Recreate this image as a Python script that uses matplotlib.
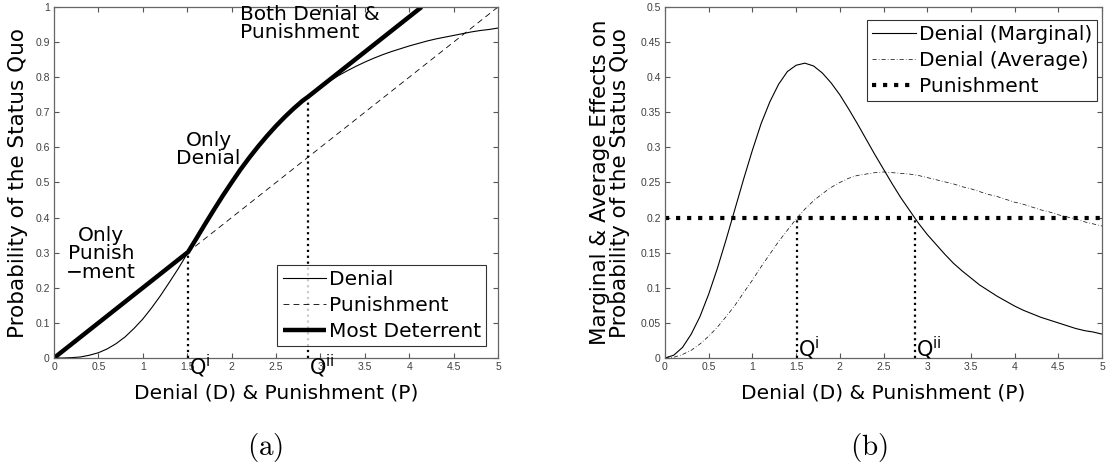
import matplotlib
matplotlib.use("Agg")
import matplotlib.pyplot as plt
from matplotlib.ticker import FormatStrFormatter, MultipleLocator

plt.rcParams['font.family'] = ['DejaVu Sans']
plt.rcParams['mathtext.fontset'] = 'dejavusans'

# values
xs = [0.0, 0.1, 0.2, 0.3, 0.4, 0.5, 0.6, 0.7, 0.8, 0.9,
      1.0, 1.1, 1.2, 1.3, 1.4, 1.5, 1.6, 1.7, 1.8, 1.9,
      2.0, 2.1, 2.2, 2.3, 2.4, 2.5, 2.6, 2.7, 2.8, 2.9,
      3.0, 3.1, 3.2, 3.3, 3.4, 3.5, 3.6, 3.7, 3.8, 3.9,
      4.0, 4.1, 4.2, 4.3, 4.4, 4.5, 4.6, 4.7, 4.8, 4.9, 5.0]
denial = [0.000, 0.000, 0.001, 0.003, 0.008, 0.015, 0.026, 0.041, 0.060, 0.084,
          0.111, 0.143, 0.178, 0.216, 0.255, 0.297, 0.339, 0.381, 0.422, 0.462,
          0.500, 0.537, 0.571, 0.603, 0.633, 0.661, 0.687, 0.711, 0.733, 0.753,
          0.771, 0.788, 0.804, 0.818, 0.831, 0.843, 0.854, 0.864, 0.873, 0.881,
          0.889, 0.896, 0.903, 0.909, 0.914, 0.919, 0.924, 0.929, 0.933, 0.936, 0.940]
marginal = [0.000, 0.004, 0.015, 0.034, 0.059, 0.091, 0.128, 0.169, 0.212, 0.255,
            0.296, 0.334, 0.365, 0.390, 0.408, 0.417, 0.420, 0.416, 0.406, 0.392,
            0.375, 0.355, 0.334, 0.312, 0.290, 0.269, 0.248, 0.228, 0.210, 0.192,
            0.176, 0.162, 0.148, 0.135, 0.124, 0.114, 0.104, 0.096, 0.088, 0.081,
            0.074, 0.068, 0.063, 0.058, 0.054, 0.050, 0.046, 0.042, 0.039, 0.037, 0.034]
average = [0.000, 0.001, 0.005, 0.011, 0.020, 0.031, 0.044, 0.059, 0.075, 0.093,
           0.111, 0.130, 0.148, 0.166, 0.182, 0.198, 0.212, 0.224, 0.234, 0.243,
           0.250, 0.256, 0.260, 0.262, 0.264, 0.265, 0.264, 0.263, 0.262, 0.260,
           0.257, 0.254, 0.251, 0.248, 0.244, 0.241, 0.237, 0.233, 0.230, 0.226,
           0.222, 0.219, 0.215, 0.211, 0.208, 0.204, 0.201, 0.198, 0.194, 0.191, 0.188]

pun_x = [0, 5]
pun_y = [0, 1]
pun_marg = [0.2, 0.2]

deter_x = [0, 1.51, 1.6, 1.7, 1.8, 1.9, 2.0, 2.1, 2.2, 2.3, 2.4, 2.5, 2.6, 2.7, 2.8, 2.86, 4.14]
deter_y = [0, 0.302, 0.339, 0.381, 0.422, 0.462, 0.500, 0.537, 0.571, 0.603,
           0.633, 0.661, 0.687, 0.711, 0.733, 0.744, 1.0]

qi, qii = 1.51, 2.86
qi_a, qii_a = 0.302, 0.744   # heights on panel (a)

fig = plt.figure(figsize=(11.07, 4.68), dpi=100)
ax1 = fig.add_axes([54/1107, 110/468, 444/1107, 351/468])
ax2 = fig.add_axes([665/1107, 110/468, 437/1107, 351/468])

def style(ax, ystep):
    ax.set_xlim(0, 5)
    ax.xaxis.set_major_locator(MultipleLocator(0.5))
    ax.yaxis.set_major_locator(MultipleLocator(ystep))
    ax.xaxis.set_major_formatter(FormatStrFormatter('%g'))
    ax.yaxis.set_major_formatter(FormatStrFormatter('%g'))
    ax.tick_params(direction='in', top=True, right=True, length=3.5, width=0.8,
                   labelsize=7.5, labelcolor='#404040', color='#555555', pad=3)
    for s in ax.spines.values():
        s.set_color('#666666')
        s.set_linewidth(0.9)
    for lab in ax.get_xticklabels() + ax.get_yticklabels():
        lab.set_family('Liberation Sans')

# (a)
ax1.plot(xs, denial, color='black', lw=0.8, label='Denial')
ax1.plot(pun_x, pun_y, color='black', lw=0.6, dashes=(7, 5), label='Punishment')
ax1.plot(deter_x, deter_y, color='black', lw=3.2, label='Most Deterrent', solid_capstyle='butt')
ax1.plot([qi, qi], [0, qi_a], color='black', lw=1.6, ls=':')
ax1.plot([qii, qii], [0, qii_a], color='black', lw=1.6, ls=':')
ax1.set_ylim(0, 1)
style(ax1, 0.1)
ax1.set_xlabel('Denial (D) & Punishment (P)', fontsize=14.5)
ax1.xaxis.set_label_coords(0.5, -35/351)
ax1.xaxis.label.set_va('center')
ax1.set_ylabel('Probability of the Status Quo', fontsize=15.5)
ax1.yaxis.set_label_coords(-36/444, 0.5)
ax1.yaxis.label.set_va('center')
ax1.text(qi + 0.01, -0.048, r'Q$^{\mathrm{i}}$', fontsize=15, va='baseline', ha='left',
         clip_on=False)
ax1.text(qii + 0.01, -0.048, r'Q$^{\mathrm{ii}}$', fontsize=15, va='baseline', ha='left',
         clip_on=False)
ax1.text(0.53, 0.297, 'Only\nPunish\n\u2212ment', fontsize=14.5, ha='center', va='center',
         linespacing=0.95)
ax1.text(1.74, 0.595, 'Only\nDenial', fontsize=14.5, ha='center', va='center', linespacing=0.95)
ax1.text(2.10, 0.953, 'Both Denial &\nPunishment', fontsize=14.5, ha='left', va='center',
         linespacing=0.95)
leg1 = ax1.legend(loc='lower right', bbox_to_anchor=(1 - 12/444, 12/351), fontsize=14.5,
                  handlelength=2.15, handletextpad=0.15, labelspacing=0.35,
                  borderpad=0.25, borderaxespad=0, fancybox=False, edgecolor='black')
leg1.get_frame().set_linewidth(0.8)

# (b)
ax2.plot(xs, marginal, color='black', lw=0.8, label='Denial (Marginal)')
ax2.plot(xs, average, color='black', lw=0.5, dashes=(6, 3, 1, 3), label='Denial (Average)')
ax2.plot(pun_x, pun_marg, color='black', lw=3.0, ls=':', label='Punishment')
ax2.plot([qi, qi], [0, 0.2], color='black', lw=1.6, ls=':')
ax2.plot([qii, qii], [0, 0.2], color='black', lw=1.6, ls=':')
ax2.set_ylim(0, 0.5)
style(ax2, 0.05)
ax2.set_xlabel('Denial (D) & Punishment (P)', fontsize=14.5)
ax2.xaxis.set_label_coords(0.5, -35/351)
ax2.xaxis.label.set_va('center')
ax2.set_ylabel('Marginal & Average Effects on\nProbability of the Status Quo', fontsize=15.5,
               linespacing=0.95)
ax2.yaxis.set_label_coords(-55/437, 0.5)
ax2.yaxis.label.set_va('center')
ax2.text(qi + 0.01, 0.002, r'Q$^{\mathrm{i}}$', fontsize=15, va='baseline', ha='left')
ax2.text(qii + 0.01, 0.002, r'Q$^{\mathrm{ii}}$', fontsize=15, va='baseline', ha='left')
leg2 = ax2.legend(loc='upper right', bbox_to_anchor=(1 - 5/437, 1 - 13/351), fontsize=14.5,
                  handlelength=2.15, handletextpad=0.15, labelspacing=0.35,
                  borderpad=0.25, borderaxespad=0, fancybox=False, edgecolor='black')
leg2.get_frame().set_linewidth(0.8)

plt.rcParams['mathtext.fontset'] = 'cm'
fig.text(265/1107, 1 - 448/468, r'$\mathrm{(a)}$', fontsize=21, ha='center', va='center')
fig.text(869/1107, 1 - 448/468, r'$\mathrm{(b)}$', fontsize=21, ha='center', va='center')

fig.savefig('out.png', dpi=100)
